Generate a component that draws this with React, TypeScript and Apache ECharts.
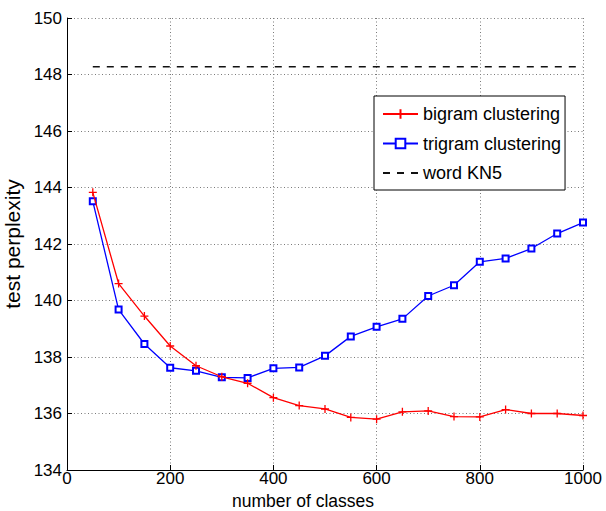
import React, { useEffect, useRef } from "react";
import * as echarts from "echarts";

const classes = [50, 100, 150, 200, 250, 300, 350, 400, 450, 500, 550, 600, 650, 700, 750, 800, 850, 900, 950, 1000];
const bigram = [143.83, 140.6, 139.45, 138.39, 137.69, 137.3, 137.07, 136.56, 136.28, 136.16, 135.86, 135.8, 136.06, 136.09, 135.89, 135.88, 136.14, 136.0, 136.0, 135.93];
const trigram = [143.51, 139.68, 138.46, 137.62, 137.51, 137.28, 137.26, 137.6, 137.63, 138.04, 138.73, 139.07, 139.35, 140.16, 140.54, 141.37, 141.49, 141.84, 142.37, 142.76];
const kn5X = [50, 1000];
const kn5Value = 148.27;
const seriesNames = ["bigram clustering", "trigram clustering", "word KN5"];
const xTitle = "number of classes";
const yTitle = "test perplexity";

const FONT = "'Liberation Sans', Arial, Helvetica, sans-serif";

export default function App() {
  const ref = useRef<HTMLDivElement>(null);
  useEffect(() => {
    if (!ref.current) return;
    const chart = echarts.init(ref.current, undefined, { renderer: "svg" });
    const gridLine = { show: true, lineStyle: { color: "#7a7a7a", width: 1, type: [1, 2.5] as any } };
    const option: any = {
      animation: false,
      backgroundColor: "#fff",
      textStyle: { fontFamily: FONT },
      grid: { left: 67, right: 23, top: 18, bottom: 41, containLabel: false, outerBoundsMode: "none" },
      legend: {
        orient: "vertical",
        left: 374,
        top: 96,
        padding: [9, 4, 8, 8],
        itemWidth: 35,
        itemHeight: 12,
        itemGap: 11.5,
        backgroundColor: "#fff",
        borderColor: "#000",
        borderWidth: 1,
        borderRadius: 0,
        textStyle: { fontFamily: FONT, fontSize: 18, color: "#000" },
        data: [
          { name: seriesNames[0] },
          { name: seriesNames[1] },
          { name: seriesNames[2], itemStyle: { opacity: 0 } },
        ],
      },
      xAxis: {
        type: "value",
        min: 0,
        max: 1000,
        interval: 200,
        name: xTitle,
        nameLocation: "middle",
        nameGap: 15,
        nameTextStyle: { fontFamily: FONT, fontSize: 17.5, color: "#000", padding: [0, 44, 0, 0] },
        axisLine: { show: true, lineStyle: { color: "#000", width: 1 } },
        axisTick: { show: true, inside: true, length: 5, lineStyle: { color: "#000" } },
        axisLabel: { fontFamily: FONT, fontSize: 17, color: "#000", margin: 0, formatter: (v: number) => String(v) },
        splitLine: gridLine,
      },
      yAxis: {
        type: "value",
        min: 134,
        max: 150,
        interval: 2,
        name: yTitle,
        nameLocation: "middle",
        nameGap: 41,
        nameTextStyle: { fontFamily: FONT, fontSize: 21, color: "#000" },
        axisLine: { show: true, lineStyle: { color: "#000", width: 1 } },
        axisTick: { show: true, inside: true, length: 5, lineStyle: { color: "#000" } },
        axisLabel: { fontFamily: FONT, fontSize: 17, color: "#000", margin: 5, formatter: (v: number) => String(v) },
        splitLine: gridLine,
      },
      series: [
        {
          name: seriesNames[0],
          type: "line",
          data: classes.map((c, i) => [c, bigram[i]]),
          symbol: "path://M0,5L10,5M5,0L5,10",
          symbolSize: 8,
          showAllSymbol: true,
          itemStyle: { color: "#ff0000", borderColor: "#ff0000", borderWidth: 1.3 },
          lineStyle: { color: "#ff0000", width: 1.3 },
          z: 3,
        },
        {
          name: seriesNames[1],
          type: "line",
          data: classes.map((c, i) => [c, trigram[i]]),
          symbol: "emptyRect",
          symbolSize: 6,
          showAllSymbol: true,
          itemStyle: { color: "#0000ff", borderColor: "#0000ff", borderWidth: 1.3 },
          lineStyle: { color: "#0000ff", width: 1.3 },
          z: 2,
        },
        {
          name: seriesNames[2],
          type: "line",
          data: kn5X.map((x) => [x, kn5Value]),
          symbol: "none",
          itemStyle: { color: "#000" },
          lineStyle: { color: "#111", width: 1.5, type: [7, 7] },
          z: 2,
        },
      ],
    };
    chart.setOption(option);
    return () => chart.dispose();
  }, []);
  return (
    <div
      ref={ref}
      style={{ position: "fixed", left: 0, top: 0, width: 606, height: 511, background: "#fff" }}
    />
  );
}
